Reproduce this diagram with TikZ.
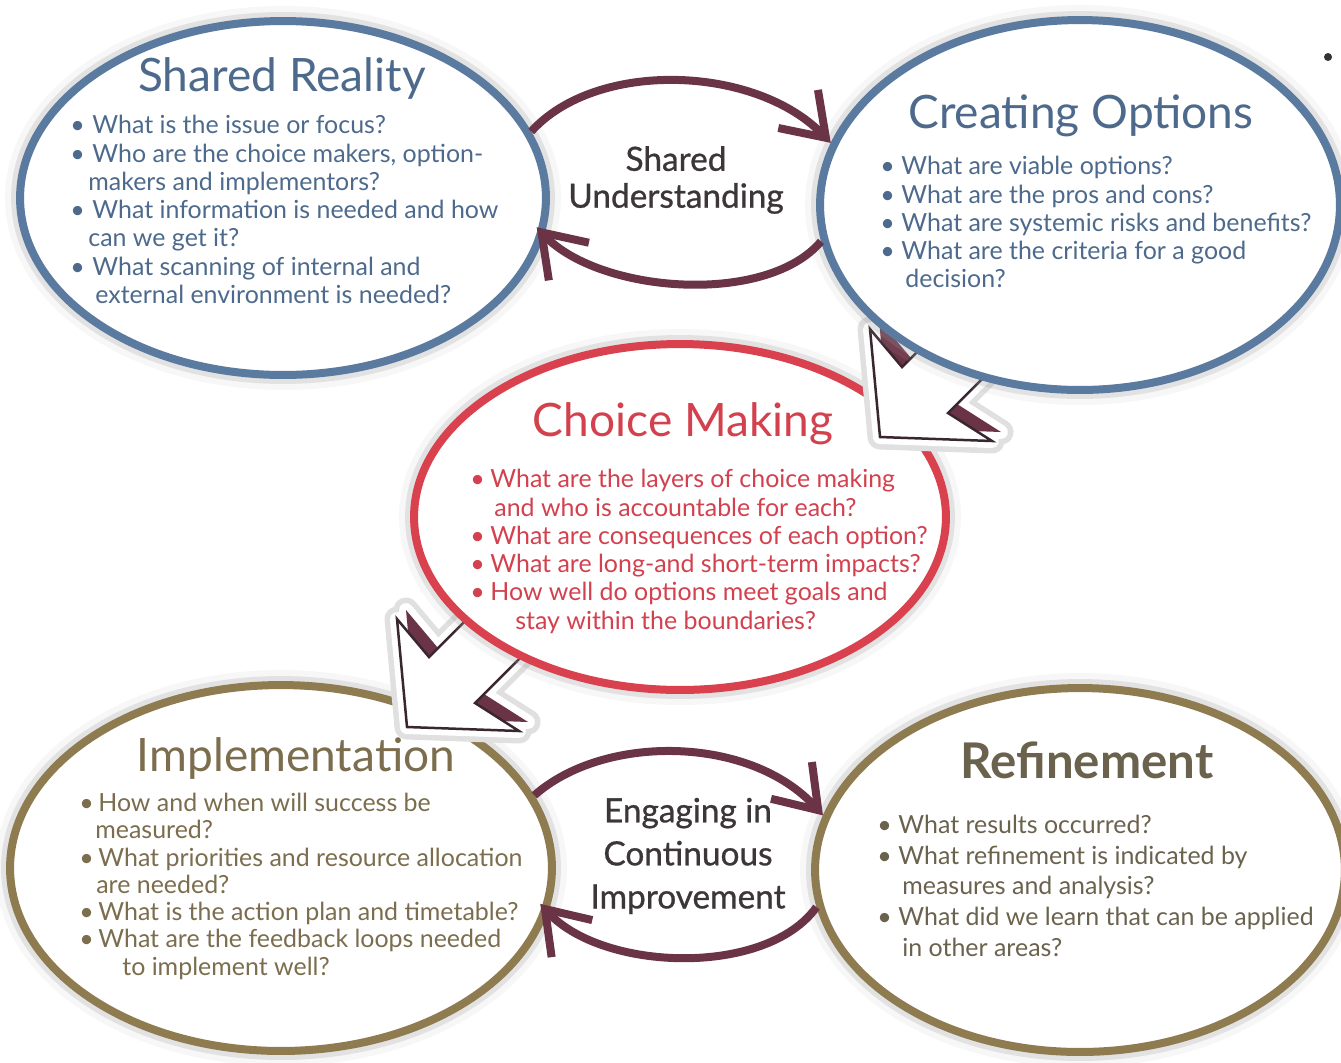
\documentclass[tikz,border=0pt]{standalone}
\usepackage{fontspec}
\setmainfont{Lato}
\usetikzlibrary{shapes.geometric,arrows.meta}
\definecolor{blueline}{HTML}{5A7AA0}
\definecolor{bluetext}{HTML}{4D6A8C}
\definecolor{redline}{HTML}{D8414D}
\definecolor{redtext}{HTML}{D3404E}
\definecolor{goldline}{HTML}{8F7B50}
\definecolor{goldtext}{HTML}{7B6D4D}
\definecolor{greytext}{HTML}{6B624E}
\definecolor{loopred}{HTML}{6B3446}
\definecolor{arrowdark}{HTML}{3A2630}
\definecolor{darktext}{HTML}{3C3638}
\newcommand\itm[1][0.38cm]{\makebox[#1][l]{\textbullet}}

\begin{document}
\begin{tikzpicture}
  [x=0.02cm,y=-0.02cm,
  oval/.style={ellipse,fill=white,line width=0.16cm,inner sep=0pt,
    preaction={draw=black!30,line width=0.6cm,opacity=0.10},
    preaction={draw=black!40,line width=0.36cm,opacity=0.22}},
  title/.style={anchor=base,font=\fontsize{26.2}{30}\selectfont},
  qlist/.style={align=left,anchor=north west,inner sep=0pt,font=\fontsize{14.2}{16.1}\selectfont},
  loop/.style={draw=loopred,line width=0.16cm,-{Straight Barb[length=0.8cm,width=1.1cm]}},
  mid/.style={align=center,text=darktext,font=\fontsize{19}{21}\selectfont\addfontfeatures{FakeBold=0.8}},
  headshape/.style={insert path={(0,0) -- (-10,-108) -- (22,-70) -- (102,-150) -- (148,-104) -- (68,-24) -- (112,4) -- cycle}},
  bigarrow/.pic={
    \draw[black!12,line width=0.5cm,line join=round,headshape];
    \draw[black!12,line width=0.5cm,line join=round,shift={(9,-9)},headshape];
    \draw[white,line width=0.28cm,line join=round,headshape];
    \draw[white,line width=0.28cm,line join=round,shift={(9,-9)},headshape];
    \fill[loopred,shift={(9,-9)},headshape];
    \filldraw[fill=white,draw=arrowdark,line width=0.05cm,headshape];
  }]
  \fill[white] (0,0) rectangle (1341,1062);
  \useasboundingbox (0,0) rectangle (1341,1062);

  % the five stages
  \node[oval,draw=blueline,minimum width=10.52cm,minimum height=7.08cm] (reality) at (283,198) {};
  \node[oval,draw=goldline,minimum width=10.84cm,minimum height=7.32cm] (implem) at (281,868) {};
  \node[oval,draw=goldline,minimum width=10.60cm,minimum height=7.28cm] (refine) at (1080,870) {};
  \pic at (407,727) {bigarrow};
  \node[oval,draw=redline,minimum width=10.64cm,minimum height=6.92cm] (choice) at (680,517) {};
  \pic at (880,437) {bigarrow};
  \node[oval,draw=blueline,minimum width=10.40cm,minimum height=7.40cm] (options) at (1080,205) {};

  % loops
  \draw[loop] (reality.15) .. controls +(65,-72) and +(-75,-78) .. (options.166);
  \draw[loop] (options.188) .. controls +(-55,65) and +(62,66) .. ([shift={(-9,-3)}]reality.353);
  \draw[loop] (implem.16) .. controls +(70,-62) and +(-72,-80) .. (refine.168);
  \draw[loop] (refine.188) .. controls +(-50,70) and +(62,68) .. ([shift={(-10,-2)}]implem.352);

  \node[mid] (shared) at (676,180) {Shared\\Understanding};
  \node[mid,font=\fontsize{19}{24.5}\selectfont\addfontfeatures{FakeBold=0.8}] (engage) at (688,856) {Engaging in\\Continuous\\Improvement};

  % titles
  \node[title,text=bluetext] (realityT) at (282,91) {Shared Reality};
  \node[title,text=bluetext] (optionsT) at (1081,128) {Creating Options};
  \node[title,text=redtext] (choiceT) at (683,436) {Choice Making};
  \node[title,text=goldtext] (implemT) at (296,771) {Implementation};
  \node[title,text=greytext,font=\bfseries\fontsize{28}{30}\selectfont] (refineT) at (1087,778) {Refinement};

  % questions
  \node[qlist,text=bluetext] (realityQ) at (70,115) {\itm[0.44cm]What is the issue or focus?\\
    \itm[0.44cm]Who are the choice makers, option-\\
    \hspace*{0.36cm}makers and implementors?\\
    \itm[0.44cm]What information is needed and how\\
    \hspace*{0.36cm}can we get it?\\
    \itm[0.44cm]What scanning of internal and\\
    \hspace*{0.50cm}external environment is needed?};
  \node[qlist,text=bluetext] (optionsQ) at (880,156) {\itm[0.42cm]What are viable options?\\
    \itm[0.42cm]What are the pros and cons?\\
    \itm[0.42cm]What are systemic risks and benefits?\\
    \itm[0.42cm]What are the criteria for a good\\
    \hspace*{0.50cm}decision?};
  \node[qlist,text=redtext] (choiceQ) at (470,469) {\itm[0.40cm]What are the layers of choice making\\
    \hspace*{0.48cm}and who is accountable for each?\\
    \itm[0.40cm]What are consequences of each option?\\
    \itm[0.40cm]What are long-and short-term impacts?\\
    \itm[0.40cm]How well do options meet goals and\\
    \hspace*{0.90cm}stay within the boundaries?};
  \node[qlist,text=goldtext,font=\fontsize{14.2}{15.5}\selectfont] (implemQ) at (79,793) {\itm[0.38cm]How and when will success be\\
    \hspace*{0.32cm}measured?\\
    \itm[0.38cm]What priorities and resource allocation\\
    \hspace*{0.34cm}are needed?\\
    \itm[0.38cm]What is the action plan and timetable?\\
    \itm[0.38cm]What are the feedback loops needed\\
    \hspace*{0.86cm}to implement well?};
  \node[qlist,text=greytext,font=\fontsize{14.2}{17.4}\selectfont] (refineQ) at (877,815) {\itm[0.42cm]What results occurred?\\
    \itm[0.42cm]What refinement is indicated by\\
    \hspace*{0.50cm}measures and analysis?\\
    \itm[0.42cm]What did we learn that can be applied\\
    \hspace*{0.50cm}in other areas?};

  \fill[black!80] (1328,57) circle (0.08cm);
\end{tikzpicture}
\end{document}
